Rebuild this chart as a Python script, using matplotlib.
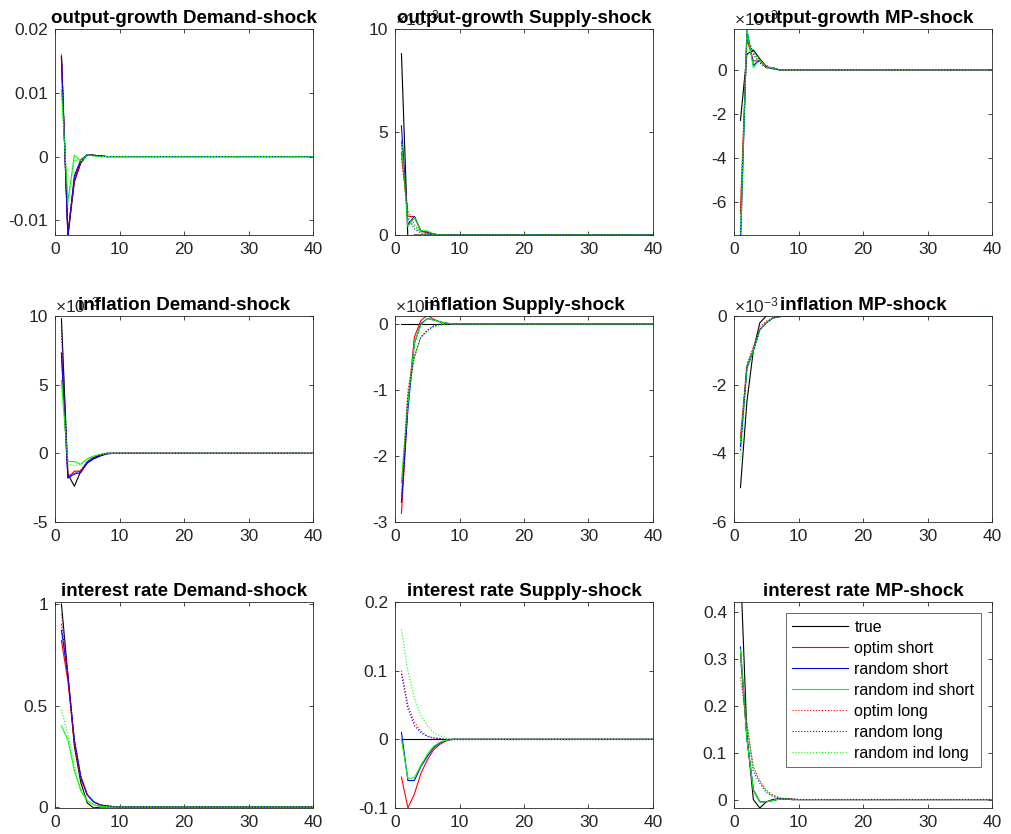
import matplotlib
matplotlib.use("Agg")
import matplotlib.pyplot as plt
from matplotlib.ticker import FuncFormatter

plt.rcParams['font.family'] = ['Liberation Sans', 'DejaVu Sans']
plt.rcParams['mathtext.fontset'] = 'custom'
plt.rcParams['mathtext.rm'] = 'Liberation Sans'
plt.rcParams['mathtext.it'] = 'Liberation Sans:italic'
plt.rcParams['mathtext.bf'] = 'Liberation Sans:bold'

N = 40
periods = list(range(1, N + 1))


def pad(vals):
    return list(vals) + [0.0] * (N - len(vals))


labels = ["true", "optim short", "random short", "random ind short",
          "optim long", "random long", "random ind long"]
colors = ["#000000", "#FF0000", "#0000FF", "#00FF00", "#FF0000", "#0000FF", "#00FF00"]
styles = ["-", "-", "-", "-", ":", ":", ":"]

variables = ["output-growth", "inflation", "interest rate"]
shocks = ["Demand-shock", "Supply-shock", "MP-shock"]

# ---------------- output growth ----------------
og_demand = [
    pad([0.0158, -0.0125, -0.0040, -0.0010, 0.0003, 0.0002, 0.0001]),
    pad([0.0155, -0.0120, -0.0035, -0.0008, 0.0003, 0.0002, 0.0001]),
    pad([0.0155, -0.0125, -0.0030, -0.0005, 0.0003, 0.0002, 0.0001]),
    pad([0.0105, -0.0070, 0.0002, -0.0007, 0.0003, 0.0001]),
    pad([0.0160, -0.0120, -0.0040, -0.0010, 0.0002, 0.0002, 0.0001]),
    pad([0.0155, -0.0122, -0.0035, -0.0008, 0.0002, 0.0002, 0.0001]),
    pad([0.0110, -0.0075, -0.0005, -0.0007, 0.0002, 0.0001]),
]
og_supply = [
    pad([0.0088, -0.0002, 0.0, 0.0]),
    pad([0.0040, 0.0009, 0.0009, 0.0002, 0.0001, 0.00005]),
    pad([0.0053, 0.0005, 0.0009, 0.0002, 0.00015, 0.00005]),
    pad([0.0046, 0.0004, 0.00085, 0.0002, 0.0002, 0.00005]),
    pad([0.0037, 0.0012, 0.0005, 0.0002, 0.0001, 0.00003]),
    pad([0.0045, 0.0008, 0.0003, 0.0001, 0.00005]),
    pad([0.0042, 0.0009, 0.0004, 0.00015, 0.00005]),
]
og_mp = [
    pad([-0.0023, 0.0007, 0.0009, 0.0005, 0.00015, 0.00005]),
    pad([-0.0065, 0.0014, 0.0004, 0.0004, 0.0001, 0.00008]),
    pad([-0.0080, 0.0018, 0.0002, 0.00045, 0.0001, 0.0001]),
    pad([-0.0078, 0.0018, 0.0001, 0.00045, 0.0001, 0.0001]),
    pad([-0.0062, 0.0013, 0.0008, 0.0004, 0.0002, 0.00005]),
    pad([-0.0075, 0.0016, 0.0007, 0.0003, 0.0001, 0.00005]),
    pad([-0.0070, 0.0015, 0.0008, 0.0004, 0.0002, 0.00005]),
]

# ---------------- inflation ----------------
inf_demand = [
    pad([0.0098, -0.0015, -0.0024, -0.0013, -0.0007, -0.0004, -0.0002, -0.00005]),
    pad([0.0073, -0.0018, -0.0013, -0.0013, -0.0006, -0.0003, -0.0001]),
    pad([0.0073, -0.0018, -0.0015, -0.0014, -0.0007, -0.00035, -0.00015]),
    pad([0.0053, -0.0006, -0.0006, -0.0008, -0.0004, -0.0002, -0.0001]),
    pad([0.0090, -0.0016, -0.0014, -0.0012, -0.0006, -0.0003, -0.0001]),
    pad([0.0092, -0.0017, -0.0015, -0.0013, -0.0006, -0.0003, -0.0001]),
    pad([0.0050, -0.0008, -0.0009, -0.0008, -0.0004, -0.0002, -0.0001]),
]
inf_supply = [
    pad([0.0]),
    pad([-0.00287, -0.0012, -0.0002, 0.00005, 0.00013, 0.00007, 0.00003, 0.00001]),
    pad([-0.0027, -0.0013, -0.0003, 0.0, 0.00008, 0.00006, 0.00003, 0.00001]),
    pad([-0.0024, -0.0012, -0.0003, -0.00002, 0.00008, 0.00006, 0.00003, 0.00001]),
    pad([-0.0026, -0.0010, -0.0005, -0.0002, -0.0001, -0.00003]),
    pad([-0.0027, -0.0011, -0.0005, -0.0002, -0.0001, -0.00003]),
    pad([-0.0024, -0.0011, -0.0005, -0.0002, -0.00012, -0.00005, -0.00002]),
]
inf_mp = [
    pad([-0.0050, -0.0025, -0.0010, -0.0002, 0.0, 0.00002]),
    pad([-0.0036, -0.0015, -0.0010, -0.0004, -0.0002, -0.00006, -0.00002]),
    pad([-0.0038, -0.0015, -0.0010, -0.0004, -0.0002, -0.00006, -0.00002]),
    pad([-0.0037, -0.0015, -0.0010, -0.0004, -0.0002, -0.00006, -0.00002]),
    pad([-0.0035, -0.0014, -0.0009, -0.0003, -0.00015, -0.00005, -0.00002]),
    pad([-0.0039, -0.0015, -0.0010, -0.0004, -0.0002, -0.00006, -0.00002]),
    pad([-0.0042, -0.0016, -0.0010, -0.0004, -0.0002, -0.00006, -0.00002]),
]

# ---------------- interest rate ----------------
ir_demand = [
    pad([1.00, 0.65, 0.30, 0.12, 0.02, -0.005, 0.0]),
    pad([0.82, 0.62, 0.32, 0.14, 0.06, 0.025, 0.010, 0.005, 0.002]),
    pad([0.87, 0.65, 0.33, 0.15, 0.06, 0.025, 0.010, 0.005, 0.002]),
    pad([0.40, 0.33, 0.18, 0.08, 0.03, 0.010, 0.004, 0.001]),
    pad([0.95, 0.65, 0.32, 0.14, 0.06, 0.025, 0.010, 0.005, 0.002]),
    pad([0.90, 0.65, 0.33, 0.15, 0.06, 0.025, 0.010, 0.005, 0.002]),
    pad([0.48, 0.36, 0.20, 0.09, 0.035, 0.012, 0.005, 0.002]),
]
ir_supply = [
    pad([0.0]),
    pad([-0.055, -0.100, -0.080, -0.050, -0.030, -0.015, -0.007, -0.002]),
    pad([0.010, -0.060, -0.060, -0.040, -0.025, -0.012, -0.005, -0.001]),
    pad([0.0, -0.057, -0.056, -0.038, -0.022, -0.010, -0.004, -0.001]),
    pad([0.100, 0.050, 0.025, 0.012, 0.005, 0.002, 0.001]),
    pad([0.095, 0.045, 0.020, 0.010, 0.004, 0.002, 0.001]),
    pad([0.160, 0.100, 0.060, 0.035, 0.020, 0.010, 0.005, 0.002]),
]
ir_mp = [
    pad([0.50, 0.14, 0.0, -0.018, -0.005, 0.0, 0.002, 0.002, 0.001]),
    pad([0.31, 0.13, 0.02, -0.004, -0.005, -0.002, 0.001, 0.001]),
    pad([0.325, 0.13, 0.02, -0.005, -0.005, -0.002, 0.001, 0.001]),
    pad([0.32, 0.13, 0.02, -0.005, -0.005, -0.002, 0.001, 0.001]),
    pad([0.26, 0.16, 0.07, 0.040, 0.020, 0.010, 0.004, 0.002]),
    pad([0.30, 0.16, 0.06, 0.035, 0.015, 0.007, 0.003, 0.001]),
    pad([0.30, 0.16, 0.065, 0.038, 0.018, 0.008, 0.003, 0.001]),
]

panels = [
    [og_demand, og_supply, og_mp],
    [inf_demand, inf_supply, inf_mp],
    [ir_demand, ir_supply, ir_mp],
]

ylims = [
    [(-0.0123, 0.02), (0.0, 0.010), (-0.0075, 0.00185)],
    [(-0.005, 0.010), (-0.003, 0.00012), (-0.006, 0.0)],
    [(-0.005, 1.01), (-0.1, 0.2), (-0.018, 0.421)],
]
yticks = [
    [[-0.01, 0, 0.01, 0.02], [0, 0.005, 0.010], [-0.006, -0.004, -0.002, 0]],
    [[-0.005, 0, 0.005, 0.010], [-0.003, -0.002, -0.001, 0], [-0.006, -0.004, -0.002, 0]],
    [[0, 0.5, 1], [-0.1, 0, 0.1, 0.2], [0, 0.1, 0.2, 0.3, 0.4]],
]
scaled = [
    [False, True, True],
    [True, True, True],
    [False, False, False],
]

W, H = 1011, 834
fig = plt.figure(figsize=(W / 100, H / 100), dpi=100)

col_left = [55, 395, 734]
row_top = [29, 316, 602]
ax_w = 258
ax_h = 206

axis_color = "#262626"
for r in range(3):
    for c in range(3):
        left = col_left[c] / W
        bottom = 1 - (row_top[r] + ax_h) / H
        ax = fig.add_axes([left, bottom, ax_w / W, ax_h / H])
        series = panels[r][c]
        for s, lab, col, ls in zip(series, labels, colors, styles):
            ax.plot(periods, s, color=col, linestyle=ls, linewidth=0.8,
                    label=lab)
        ax.set_xlim(0, 40)
        ax.set_xticks([0, 10, 20, 30, 40])
        ax.set_ylim(*ylims[r][c])
        ax.set_yticks(yticks[r][c])
        if scaled[r][c]:
            ax.yaxis.set_major_formatter(FuncFormatter(lambda v, p: "%g" % round(v * 1e3, 6)))
            ax.text(0.0, 1.004, r"$\times10^{-3}$", transform=ax.transAxes,
                    ha="left", va="bottom", fontsize=12.5, color=axis_color)
        else:
            ax.yaxis.set_major_formatter(FuncFormatter(lambda v, p: "%g" % round(v, 6)))
        ax.tick_params(direction="in", length=3, width=0.6, top=True, right=True,
                       labelsize=12.5, colors=axis_color, pad=5)
        for sp in ax.spines.values():
            sp.set_color(axis_color)
            sp.set_linewidth(0.6)
        ax.set_title(f"{variables[r]} {shocks[c]}", fontsize=13.5,
                     fontweight="bold", pad=4, color="black")
        if r == 2 and c == 2:
            leg = ax.legend(loc="upper right", fontsize=11.5, frameon=True,
                            fancybox=False, edgecolor=axis_color,
                            handlelength=3.5, handletextpad=0.4,
                            borderaxespad=0.7, labelspacing=0.38,
                            borderpad=0.4)
            leg.get_frame().set_linewidth(0.6)

fig.savefig("out.png", dpi=100)
